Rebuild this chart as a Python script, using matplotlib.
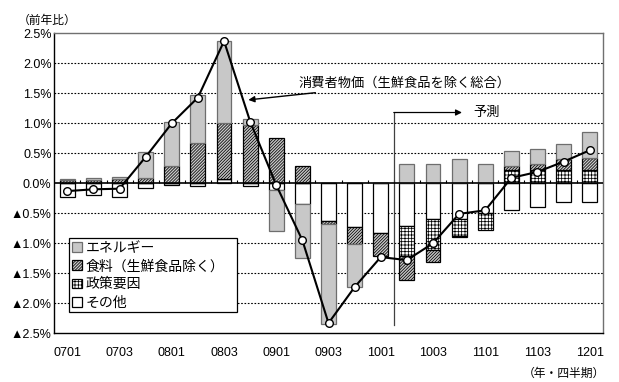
import numpy as np
import matplotlib
matplotlib.use("Agg")
import matplotlib.pyplot as plt
from matplotlib.patches import Patch

plt.rcParams['font.family'] = ['Liberation Sans', 'Noto Sans CJK JP', 'DejaVu Sans']
plt.rcParams['hatch.linewidth'] = 0.55

# Quarter labels (year+quarter), one bar per quarter
quarters = ['0701', '0702', '0703', '0704', '0801', '0802', '0803', '0804',
            '0901', '0902', '0903', '0904', '1001', '1002', '1003', '1004',
            '1101', '1102', '1103', '1104', '1201']
tick_labels = ['0701', '0703', '0801', '0803', '0901', '0903',
               '1001', '1003', '1101', '1103', '1201']

# Contributions to year-on-year change (%)
energy = [0.03, 0.03, 0.03, 0.43, 0.73, 0.80, 1.37, 0.10, -0.68, -0.90, -1.67,
          -0.71, 0.00, 0.32, 0.32, 0.40, 0.33, 0.25, 0.25, 0.25, 0.43]
food = [0.05, 0.06, 0.08, 0.09, 0.29, 0.68, 0.92, 0.97, 0.75, 0.29, -0.06,
        -0.30, -0.39, -0.39, -0.21, -0.02, 0.00, 0.06, 0.11, 0.17, 0.19]
policy = [0.0, 0.0, 0.0, 0.0, 0.0, 0.0, 0.0, 0.0, 0.0, 0.0, 0.0,
          0.0, 0.0, -0.51, -0.51, -0.27, -0.27, 0.23, 0.22, 0.23, 0.23]
other = [-0.23, -0.19, -0.23, -0.08, -0.02, -0.05, 0.08, -0.05, -0.11, -0.35, -0.62,
         -0.72, -0.82, -0.71, -0.60, -0.60, -0.50, -0.45, -0.40, -0.31, -0.31]
# Core CPI (excluding fresh food), year-on-year (%)
core_cpi = [-0.13, -0.10, -0.09, 0.44, 1.00, 1.43, 2.37, 1.03, -0.03, -0.95, -2.33,
            -1.73, -1.23, -1.28, -1.00, -0.51, -0.45, 0.09, 0.19, 0.36, 0.55]

series = [
    ('その他', other, dict(facecolor='white', edgecolor='black', hatch=None)),
    ('政策要因', policy, dict(facecolor='white', edgecolor='black', hatch='+++++')),
    ('食料（生鮮食品除く）', food, dict(facecolor='#c8c8c8', edgecolor='black', hatch='///////////')),
    ('エネルギー', energy, dict(facecolor='#c8c8c8', edgecolor='#6e6e6e', hatch=None)),
]

fig = plt.figure(figsize=(6.19, 3.82), dpi=100)
ax = fig.add_axes([0.0877, 0.1275, 0.886, 0.7853])

x = np.arange(len(quarters))
width = 0.57
pos_base = np.zeros(len(quarters))
neg_base = np.zeros(len(quarters))
handles = {}
for name, vals, style in series:
    v = np.array(vals)
    base = np.where(v >= 0, pos_base, neg_base)
    ax.bar(x, v, width, bottom=base, linewidth=0.9, zorder=3, **style)
    pos_base = pos_base + np.where(v > 0, v, 0)
    neg_base = neg_base + np.where(v < 0, v, 0)
    handles[name] = Patch(linewidth=0.9, **style)

ax.plot(x, core_cpi, color='black', linewidth=1.5, marker='o', markersize=5.5,
        markerfacecolor='white', markeredgecolor='black', markeredgewidth=1.0, zorder=5)

ax.set_xlim(-0.5, len(quarters) - 0.5)
ax.set_ylim(-2.5, 2.5)

yticks = np.arange(-2.5, 2.51, 0.5)
ax.set_yticks(yticks)
ax.set_yticklabels([('▲' if t < -1e-9 else '') + f'{abs(t):.1f}%' for t in yticks])
ax.set_xticks([quarters.index(q) for q in tick_labels])
ax.set_xticklabels(tick_labels)
ax.tick_params(axis='both', length=0, labelsize=9, colors='black')
ax.tick_params(axis='x', pad=10)
ax.tick_params(axis='y', pad=2)

# dotted gridlines, solid zero line
for t in yticks:
    if abs(t) > 1e-9 and abs(abs(t) - 2.5) > 1e-9:
        ax.axhline(t, color='black', linewidth=0.8, linestyle=(0, (1.5, 1.5)), zorder=1)
ax.axhline(0, color='black', linewidth=1.2, zorder=4)
ax.vlines(np.arange(0.5, len(quarters) - 1), 0, 0.06, color='black', linewidth=0.8, zorder=2)

for side in ['left', 'bottom']:
    ax.spines[side].set_color('black')
    ax.spines[side].set_linewidth(1.0)
for side in ['top', 'right']:
    ax.spines[side].set_color('#707070')
    ax.spines[side].set_linewidth(1.0)

jp = ['Noto Sans CJK JP', 'DejaVu Sans']

# series label with arrow
ax.annotate('消費者物価（生鮮食品を除く総合）', xy=(6.93, 1.39), xytext=(8.84, 1.67),
            ha='left', va='center', fontsize=9.5, family=jp,
            arrowprops=dict(arrowstyle='-|>', color='black', lw=1.0,
                            shrinkA=2, shrinkB=0, mutation_scale=9))

# forecast marker
ax.plot([12.5, 12.5], [-2.36, 1.18], color='#404040', linewidth=0.9, zorder=2)
ax.annotate('', xy=(15.11, 1.18), xytext=(12.5, 1.18),
            arrowprops=dict(arrowstyle='-|>', color='black', lw=0.9,
                            shrinkA=0, shrinkB=0, mutation_scale=9))
ax.text(15.54, 1.18, '予測', ha='left', va='center', fontsize=9.5, family=jp)

fig.text(18 / 619, 1 - 20 / 382, '（前年比）', ha='left', va='center', fontsize=8.5, family=jp)
fig.text(605 / 619, 1 - 373 / 382, '（年・四半期）', ha='right', va='center', fontsize=8.5, family=jp)

order = ['エネルギー', '食料（生鮮食品除く）', '政策要因', 'その他']
leg = ax.legend([handles[n] for n in order], order, loc='lower left',
                bbox_to_anchor=(0.027, 0.07, 0.307, 0.272), mode='expand',
                prop={'family': jp, 'size': 10}, frameon=True, fancybox=False,
                edgecolor='black', framealpha=1, handlelength=0.7, handleheight=0.7,
                handletextpad=0.3, labelspacing=0.3, borderpad=0.2, borderaxespad=0)
leg.get_frame().set_linewidth(0.9)
leg.set_zorder(6)

fig.savefig('out.png', dpi=100)
